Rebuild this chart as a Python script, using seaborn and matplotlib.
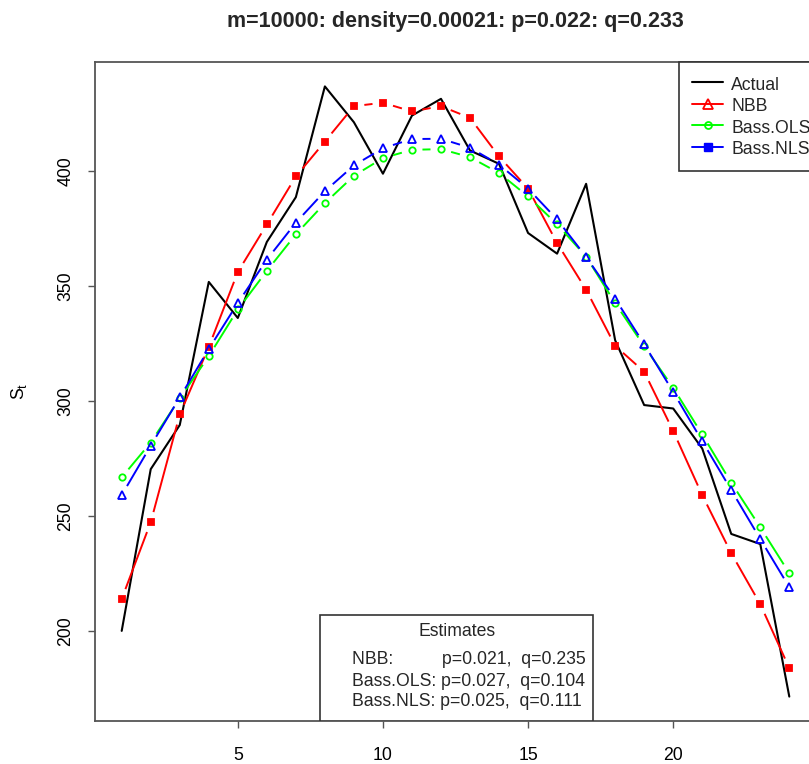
import numpy as np
import matplotlib
import matplotlib.pyplot as plt
import seaborn as sns
from matplotlib.collections import LineCollection
from matplotlib.lines import Line2D
from matplotlib.patches import Rectangle

matplotlib.use('Agg')

# values
t = np.arange(1, 25)
actual = [200.0, 270.4, 289.6, 351.9, 336.2, 369.3, 388.8, 437.0, 421.4, 399.0, 424.3, 431.6,
          409.1, 403.3, 373.2, 364.2, 394.6, 326.5, 298.3, 296.8, 279.4, 242.2, 237.8, 171.4]
nbb = [213.9, 247.3, 294.2, 323.6, 356.2, 376.9, 397.8, 413.0, 428.4, 429.9, 426.1, 428.4,
       423.3, 406.5, 392.5, 368.8, 348.5, 324.1, 312.8, 287.0, 259.1, 233.8, 211.6, 183.8]
bass_ols = [266.8, 282.0, 301.2, 319.6, 339.9, 356.7, 372.6, 386.2, 398.1, 405.8, 409.4, 409.7,
            406.2, 399.3, 389.1, 377.0, 362.9, 342.7, 323.9, 305.8, 285.5, 264.5, 245.1, 225.1]
bass_nls = [259.1, 280.6, 301.6, 322.7, 342.7, 361.6, 377.7, 391.4, 402.6, 410.1, 414.1, 414.2,
            410.3, 403.0, 392.5, 379.1, 362.8, 344.6, 324.8, 304.0, 282.6, 261.3, 240.0, 219.0]

title = 'm=10000: density=0.00021: p=0.022: q=0.233'
legend_labels = ['Actual', 'NBB', 'Bass.OLS', 'Bass.NLS']
estimate_lines = ['NBB:          p=0.021,  q=0.235',
                  'Bass.OLS: p=0.027,  q=0.104',
                  'Bass.NLS: p=0.025,  q=0.111']

sns.set_theme(style='white')
plt.rcParams['font.family'] = ['Liberation Sans', 'DejaVu Sans']

FS = 12.7
W, H = 809, 764
fig = plt.figure(figsize=(W / 100, H / 100), dpi=100)
# the reference is cropped on the right, so the axes run past the figure edge
ax = fig.add_axes([95 / W, 1 - 721 / H, (816 - 95) / W, (721 - 62) / H])


def r_range(vals, pad=0.04):
    lo, hi = np.min(vals), np.max(vals)
    d = (hi - lo) * pad
    return lo - d, hi + d


ax.set_xlim(*r_range(t))
ax.set_ylim(*r_range(np.concatenate([actual, nbb, bass_ols, bass_nls])))


def gapped_segments(ax, x, y, gap_px=10.5):
    # R type="b": line segments stop short of each point
    pts = ax.transData.transform(np.column_stack([x, y]))
    inv = ax.transData.inverted()
    segs = []
    for p0, p1 in zip(pts[:-1], pts[1:]):
        d = p1 - p0
        L = np.hypot(*d)
        if L <= 2 * gap_px:
            continue
        u = d / L
        segs.append(inv.transform([p0 + u * gap_px, p1 - u * gap_px]))
    return segs


sns.lineplot(x=t, y=actual, color='black', linewidth=1.5, ax=ax)

series = [
    (nbb, '#FF0000', 's', '#FF0000', 4.5),
    (bass_ols, '#00FF00', 'o', 'none', 4.6),
    (bass_nls, '#0000FF', '^', 'none', 6.2),
]
for vals, col, mk, fc, ms in series:
    ax.add_collection(LineCollection(gapped_segments(ax, t, vals), colors=col, linewidths=1.4))
    sns.lineplot(x=t, y=vals, color=col, linestyle='', marker=mk, markersize=ms,
                 markerfacecolor=fc, markeredgecolor=col, markeredgewidth=1.3, ax=ax)

ax.set_xticks([5, 10, 15, 20])
ax.set_yticks([200, 250, 300, 350, 400])
ax.tick_params(axis='both', direction='out', length=5, width=1, color='#555555',
               labelsize=FS, labelcolor='black', bottom=True, left=True)
ax.tick_params(axis='x', pad=14)
ax.tick_params(axis='y', pad=10)
for lab in ax.get_yticklabels():
    lab.set_rotation(90)
    lab.set_va('center')

for sp in ax.spines.values():
    sp.set_color('#555555')
    sp.set_linewidth(1.3)

ax.set_xlabel('')
ax.set_ylabel(r'$\mathregular{S_t}$', fontsize=FS, color='black')
ax.yaxis.set_label_coords((29 - 95) / (816 - 95), 0.5)
ax.set_title(title, fontsize=15.5, fontweight='bold', pad=25)

handles = [
    Line2D([], [], color='black', lw=1.5),
    Line2D([], [], color='#FF0000', lw=1.4, marker='^', ms=7, mfc='none', mec='#FF0000', mew=1.3),
    Line2D([], [], color='#00FF00', lw=1.4, marker='o', ms=5, mfc='none', mec='#00FF00', mew=1.3),
    Line2D([], [], color='#0000FF', lw=1.4, marker='s', ms=5.5, mfc='#0000FF', mec='#0000FF'),
]
leg = ax.legend(handles, legend_labels, loc='upper left',
                bbox_to_anchor=((679 - 95) / (816 - 95), 1.0), borderaxespad=0,
                fontsize=FS, frameon=True, fancybox=False, framealpha=1,
                borderpad=0.72, labelspacing=0.14, handleheight=1.2,
                handlelength=1.8, handletextpad=0.45)
leg.get_frame().set_edgecolor('#333333')
leg.get_frame().set_linewidth(1.2)

# estimates box at the bottom centre
axw, axh = 816 - 95, 721 - 62
ax.add_patch(Rectangle(((320 - 95) / axw, 0), (593 - 320) / axw, (721 - 615) / axh,
                       transform=ax.transAxes, facecolor='white', edgecolor='#333333',
                       linewidth=1.2, zorder=5))
ax.text((457 - 95) / axw, (721 - 632) / axh, 'Estimates', transform=ax.transAxes,
        ha='center', va='center', fontsize=FS, zorder=6)
for i, line in enumerate(estimate_lines):
    ax.text((352 - 95) / axw, (721 - 660 - 21 * i) / axh, line, transform=ax.transAxes,
            ha='left', va='center', fontsize=FS, zorder=6)

fig.savefig('out.png', dpi=100)
